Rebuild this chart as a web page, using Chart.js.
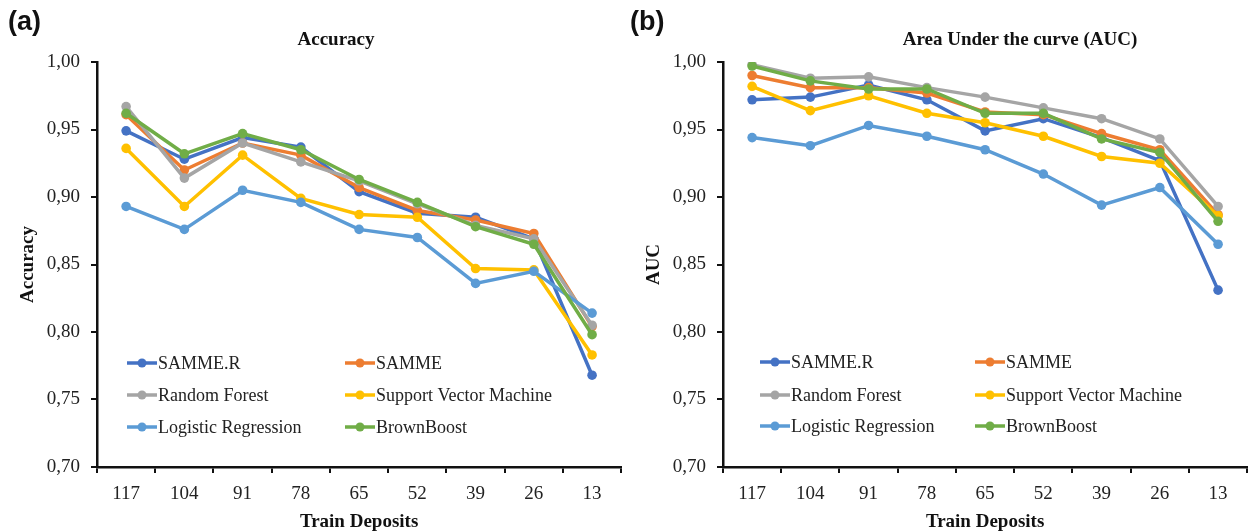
<!DOCTYPE html>
<html>
<head>
<meta charset="utf-8">
<script src="https://cdn.jsdelivr.net/npm/chart.js"></script>
<style>
  html, body { margin: 0; padding: 0; background: #fff; }
  #wrap { position: relative; width: 1252px; height: 531px; overflow: hidden; }
  .panel { position: absolute; top: 0; width: 626px; height: 531px; }
  .tag { position: absolute; top: 6px; font: bold 27px "Liberation Sans", Arial, sans-serif; color: #111; }
  .ttl { position: absolute; top: 28px; width: 400px; text-align: center;
         font: bold 19px "Liberation Serif", "DejaVu Serif", serif; color: #111; }
</style>
</head>
<body>
<div id="wrap">
  <div class="panel" style="left:0"><canvas id="accChart" width="626" height="531"></canvas></div>
  <div class="panel" style="left:626px"><canvas id="aucChart" width="626" height="531"></canvas></div>
  <div class="tag" style="left:8px">(a)</div>
  <div class="tag" style="left:630px">(b)</div>
  <div class="ttl" style="left:136px">Accuracy</div>
  <div class="ttl" style="left:820px">Area Under the curve (AUC)</div>
</div>
<script>
const deposits = ['117', '104', '91', '78', '65', '52', '39', '26', '13'];
const seriesNames = ['SAMME.R', 'SAMME', 'Random Forest', 'Support Vector Machine', 'Logistic Regression', 'BrownBoost'];
const seriesColors = ['#4472C4', '#ED7D31', '#A5A5A5', '#FFC000', '#5B9BD5', '#70AD47'];

// accuracy per model
const accSammeR = [0.949, 0.928, 0.944, 0.937, 0.904, 0.888, 0.885, 0.869, 0.768];
const accSamme  = [0.961, 0.920, 0.940, 0.931, 0.907, 0.890, 0.883, 0.873, 0.804];
const accRF     = [0.967, 0.914, 0.940, 0.926, 0.912, 0.895, 0.879, 0.869, 0.805];
const accSVM    = [0.936, 0.893, 0.931, 0.899, 0.887, 0.885, 0.847, 0.846, 0.783];
const accLR     = [0.893, 0.876, 0.905, 0.896, 0.876, 0.870, 0.836, 0.845, 0.814];
const accBB     = [0.962, 0.932, 0.947, 0.935, 0.913, 0.896, 0.878, 0.865, 0.798];

// AUC per model
const aucSammeR = [0.972, 0.974, 0.983, 0.972, 0.949, 0.958, 0.944, 0.927, 0.831];
const aucSamme  = [0.990, 0.981, 0.981, 0.977, 0.963, 0.961, 0.947, 0.935, 0.887];
const aucRF     = [0.998, 0.988, 0.989, 0.981, 0.974, 0.966, 0.958, 0.943, 0.893];
const aucSVM    = [0.982, 0.964, 0.975, 0.962, 0.955, 0.945, 0.930, 0.925, 0.886];
const aucLR     = [0.944, 0.938, 0.953, 0.945, 0.935, 0.917, 0.894, 0.907, 0.865];
const aucBB     = [0.997, 0.986, 0.980, 0.980, 0.962, 0.962, 0.943, 0.933, 0.882];

const yMin = 0.70, yMax = 1.00, yStep = 0.05;

const serif = '"Liberation Serif", "DejaVu Serif", serif';

// legend drawn inside the plot, two columns
const insideLegend = {
  id: 'insideLegend',
  afterDatasetsDraw(chart, args, opts) {
    const { ctx, chartArea } = chart;
    ctx.save();
    ctx.font = '18px ' + serif;
    ctx.textBaseline = 'middle';
    chart.data.datasets.forEach((ds, i) => {
      const x = chartArea.left + opts.cols[i % 2];
      const y = chartArea.bottom - opts.rows[Math.floor(i / 2)];
      ctx.strokeStyle = ds.borderColor;
      ctx.lineWidth = 3.5;
      ctx.beginPath(); ctx.moveTo(x, y); ctx.lineTo(x + 30, y); ctx.stroke();
      ctx.fillStyle = ds.borderColor;
      ctx.beginPath(); ctx.arc(x + 15, y, 4.5, 0, Math.PI * 2); ctx.fill();
      ctx.fillStyle = '#222';
      ctx.fillText(ds.label, x + 31, y + 1);
    });
    ctx.restore();
  }
};

function makeChart(id, yTitle, seriesData, legendPos) {
  const datasets = seriesData.map((d, i) => ({
    label: seriesNames[i],
    data: d,
    borderColor: seriesColors[i],
    backgroundColor: seriesColors[i],
    borderWidth: 3.5,
    pointRadius: 4.8,
    pointBorderWidth: 0,
    tension: 0,
    order: seriesData.length - i   // later series on top, like the original
  }));

  return new Chart(document.getElementById(id), {
    type: 'line',
    data: { labels: deposits, datasets },
    options: {
      responsive: false,
      animation: false,
      layout: { padding: { top: 62, right: 4, left: 0, bottom: 0 } },
      plugins: {
        legend: { display: false },
        tooltip: { enabled: false },
        insideLegend: legendPos
      },
      scales: {
        x: {
          offset: true,
          grid: { offset: true, drawOnChartArea: false, drawTicks: true, tickLength: 6, color: '#111', lineWidth: 2 },
          border: { color: '#111', width: 2.5 },
          ticks: { color: '#222', padding: 10, font: { family: serif, size: 19 } },
          title: { display: true, text: 'Train Deposits', color: '#111', padding: { top: 0, bottom: -2 },
                   font: { family: serif, size: 19, weight: 'bold' } },
          afterFit(scale) { scale.height = 64; }
        },
        y: {
          min: yMin, max: yMax,
          grid: { drawOnChartArea: false, drawTicks: true, tickLength: 6, color: '#111', lineWidth: 2 },
          border: { color: '#111', width: 2.5 },
          ticks: {
            stepSize: yStep, color: '#222', padding: 11,
            font: { family: serif, size: 19 },
            callback: v => v.toFixed(2).replace('.', ',')
          },
          title: { display: true, text: yTitle, color: '#111', padding: { top: 17, bottom: 4 },
                   font: { family: serif, size: 19, weight: 'bold' } },
          afterFit(scale) { scale.width = 97; }
        }
      }
    },
    plugins: [insideLegend]
  });
}

makeChart('accChart', 'Accuracy',
  [accSammeR, accSamme, accRF, accSVM, accLR, accBB],
  { cols: [30, 248], rows: [104, 72, 40] });

makeChart('aucChart', 'AUC',
  [aucSammeR, aucSamme, aucRF, aucSVM, aucLR, aucBB],
  { cols: [37, 252], rows: [105, 72, 41] });
</script>
</body>
</html>
